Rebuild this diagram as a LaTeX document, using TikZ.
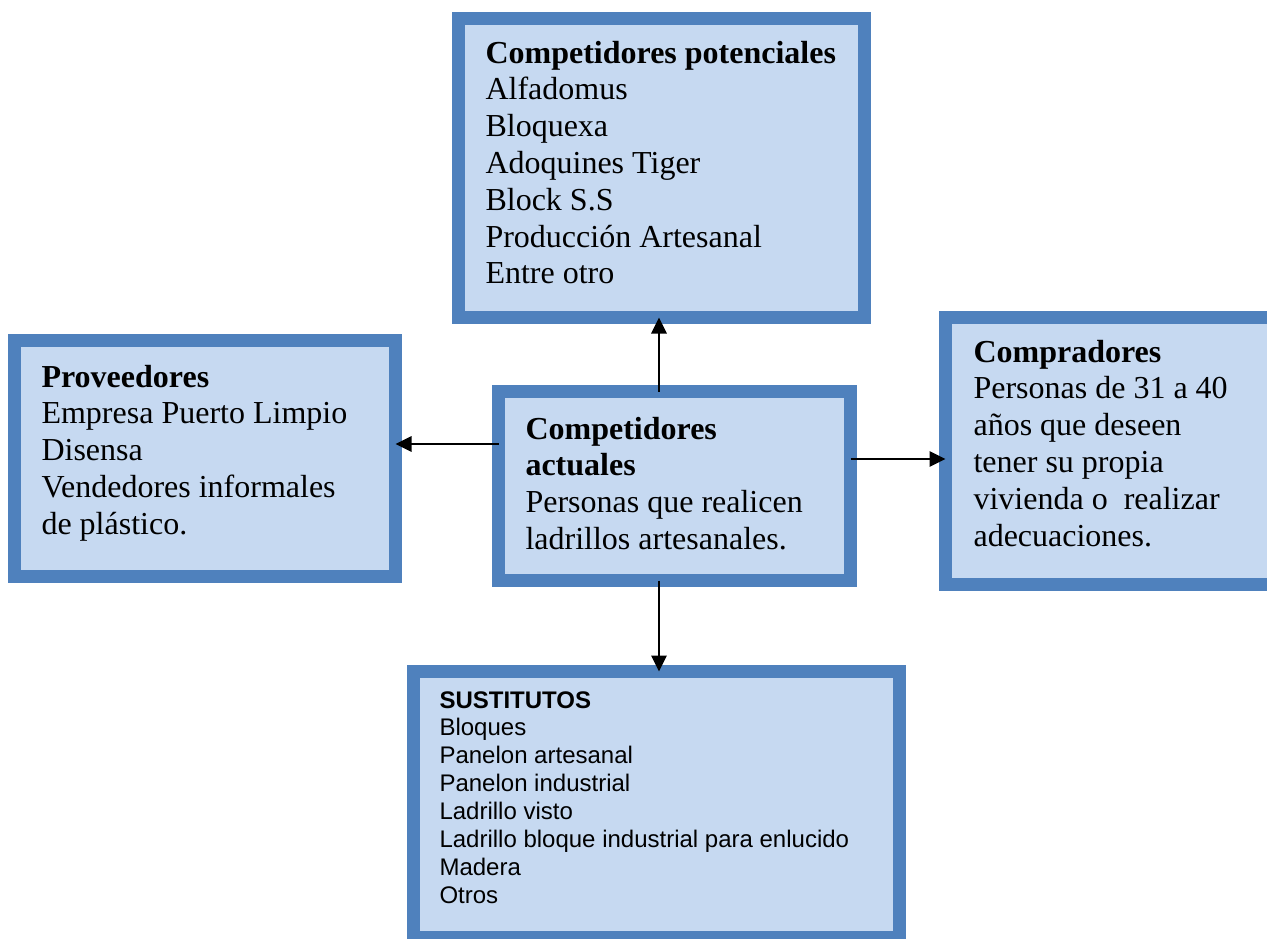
\documentclass[tikz,border=0pt]{standalone}
\usepackage{fontspec}
\setmainfont{Liberation Serif}
\newfontfamily\arialfont{Liberation Sans}
\usetikzlibrary{arrows.meta}

\definecolor{boxBorder}{HTML}{4F81BD}
\definecolor{boxFill}{HTML}{C6D9F1}

\begin{document}
\begin{tikzpicture}[x=0.375pt,y=-0.375pt]

	%declare constants, one unit is one pixel of the sketch
	\def\pxu{0.375pt}
	\def\border{13.5}

	\tikzset{
		box/.style={rectangle, draw=boxBorder, fill=boxFill, line width=\border*\pxu, outer sep=0pt, inner sep=0pt},
		txt/.style={anchor=base west, inner sep=0pt, font=\fontsize{12}{13.8}\selectfont},
		sanstxt/.style={anchor=base west, inner sep=0pt, font=\arialfont\fontsize{9}{10.46}\selectfont},
		arr/.style={-{Triangle[length=16*\pxu, width=15*\pxu]}, line width=2.8*\pxu, black}
	}

	\useasboundingbox (0,0) rectangle (1267,938);

	%boxes
	\node[box, minimum width=406*\pxu, minimum height=299*\pxu] (pot) at (661.5,168) {};
	\node[box, minimum width=381*\pxu, minimum height=236*\pxu] (prov) at (205,458.5) {};
	\node[box, minimum width=352*\pxu, minimum height=189*\pxu] (act) at (674.5,486) {};
	\node[box, minimum width=329*\pxu, minimum height=267*\pxu] (comp) at (1110,451) {};
	\node[box, minimum width=486*\pxu, minimum height=266*\pxu] (sust) at (656.5,804.5) {};

	%box texts, placed by the baseline of their first line
	\node[txt] (potTxt) at (485,63) {\parbox[t]{150pt}{\textbf{Competidores potenciales}\\
		Alfadomus\\
		Bloquexa\\
		Adoquines Tiger\\
		Block S.S\\
		Producción Artesanal\\
		Entre otro}};
	\node[txt] (provTxt) at (41,387) {\parbox[t]{140pt}{\textbf{Proveedores}\\
		Empresa Puerto Limpio\\
		Disensa\\
		Vendedores informales\\
		de plástico.}};
	\node[txt] (actTxt) at (525,439) {\parbox[t]{120pt}{\textbf{Competidores}\\
		\textbf{actuales}\\
		Personas que realicen\\
		ladrillos artesanales.}};
	\node[txt] (compTxt) at (973,362) {\parbox[t]{110pt}{\textbf{Compradores}\\
		Personas de 31 a 40\\
		años que deseen\\
		tener su propia\\
		vivienda o\ \ realizar\\
		adecuaciones.}};
	\node[sanstxt] (sustTxt) at (439,708) {\parbox[t]{170pt}{\textbf{SUSTITUTOS}\\
		Bloques\\
		Panelon artesanal\\
		Panelon industrial\\
		Ladrillo visto\\
		Ladrillo bloque industrial para enlucido\\
		Madera\\
		Otros}};

	%arrows from the centre box
	\coordinate (upX) at (659,0);
	\coordinate (leftY) at (0,444);
	\coordinate (rightY) at (0,459);
	\draw[arr] (act.north -| upX) -- (pot.south -| upX);
	\draw[arr] (act.south -| upX) -- (sust.north -| upX);
	\draw[arr] (act.west |- leftY) -- (prov.east |- leftY);
	\draw[arr] (act.east |- rightY) -- (comp.west |- rightY);

\end{tikzpicture}
\end{document}
